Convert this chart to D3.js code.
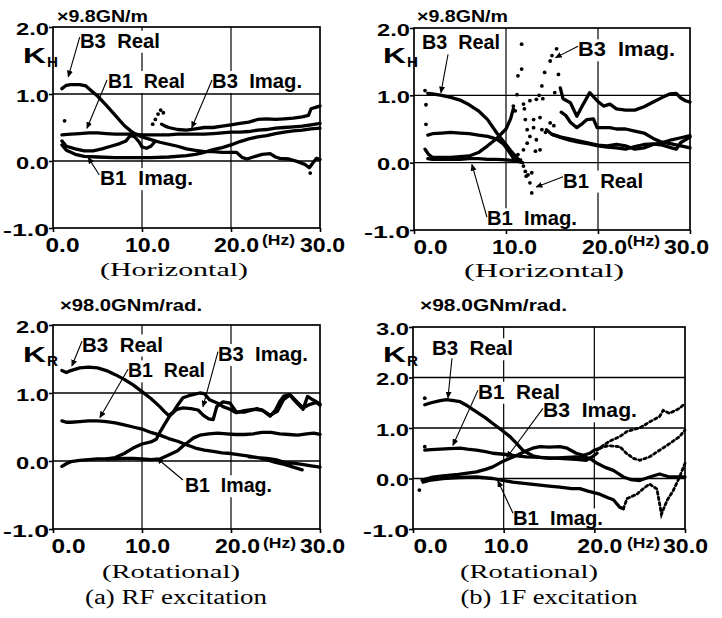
<!DOCTYPE html>
<html>
<head>
<meta charset="utf-8">
<script src="https://cdn.jsdelivr.net/npm/d3@7"></script>
<style>
  body { margin: 0; background: #fff; }
  svg { display: block; }
</style>
</head>
<body>
<div id="app"></div>
<script>
// ---- data: [frequency Hz, stiffness], null = break in the trace ----
const xTicks = [0, 10, 20, 30];
const yTicksH = [-1, 0, 1, 2];
const yTicksR = [-1, 0, 1, 2, 3];

// (a) RF excitation, horizontal
const rfH_B3Real = [[1,1.08],[1.5,1.13],[2,1.14],[3,1.14],[3.7,1.12],[4.3,1.05],[5,0.97],[6,0.83],[7,0.68],[8,0.53],[9,0.42],[10,0.36],[11,0.32],[12,0.28],[13,0.25],[14,0.22],[15,0.18],[16,0.16],[17,0.14],[18,0.14],[19,0.13],[20,0.13],[20.6,0.13],[21.3,0.05],[21.8,0.03],[22.5,0.06],[23.5,0.1],[24.4,0.11],[25,0.06],[25.5,0.04],[26.5,0.03],[27.5,-0.01],[28.3,-0.05],[28.8,-0.1],[29.6,0.04],[30,0.02]];
const rfH_B1Real = [[1,0.39],[2,0.4],[3,0.41],[4,0.42],[5,0.42],[6,0.41],[7,0.4],[8,0.4],[9,0.4],[10,0.39],[11,0.39],[12,0.39],[13,0.39],[14,0.4],[15,0.4],[16,0.4],[17,0.4],[18,0.41],[19,0.42],[20,0.43],[21,0.43],[22,0.44],[23,0.46],[24,0.47],[25,0.49],[26,0.5],[27,0.51],[28,0.52],[29,0.54],[30,0.56]];
const rfH_B3Imag = [[1,0.3],[1.5,0.22],[2.5,0.18],[3.5,0.15],[4.5,0.15],[5.5,0.18],[6.5,0.22],[7.5,0.26],[8.2,0.3],[8.7,0.38],[9.2,0.36],[9.7,0.28],[10,0.21],[10.5,0.19],[11,0.22],[11.4,0.28],null,[12.2,0.55],[12.6,0.52],[13,0.5],[14,0.47],[15,0.46],[16,0.48],[17,0.5],[18,0.5],[19,0.52],[20,0.54],[21,0.56],[22,0.58],[23,0.62],[24,0.63],[25,0.62],[26,0.63],[27,0.64],[28,0.66],[28.7,0.68],[29,0.78],[29.5,0.8],[30,0.82]];
const rfH_B1Imag = [[1,0.24],[1.5,0.16],[2.5,0.1],[3.5,0.07],[5,0.06],[7,0.05],[9,0.05],[11,0.05],[13,0.06],[15,0.08],[16,0.1],[17,0.13],[18,0.17],[19,0.2],[20,0.24],[21,0.29],[22,0.33],[23,0.36],[24,0.38],[25,0.41],[26,0.43],[27,0.45],[28,0.46],[29,0.48],[30,0.49]];
const rfH_points = [[11.2,0.55],[11.5,0.62],[11.8,0.7],[12.1,0.76],[12.4,0.72],[1.3,0.6],[28.9,-0.18]];

// (b) 1F excitation, horizontal
const ifH_B3Real = [[1.5,1.03],[2,1.02],[3,1.0],[4,0.97],[5,0.93],[6,0.86],[7,0.77],[8,0.64],[9,0.44],[10,0.27],[10.5,0.18],[11,0.1],[11.5,0.03],null,[14.4,0.49],[15,0.42],[16,0.37],[17,0.33],[18,0.3],[19,0.28],[20,0.25],[21,0.23],[22,0.22],[23,0.2],[24,0.24],[25,0.27],[26,0.28],[27,0.26],[28,0.22],[28.5,0.2],[29,0.3],[30,0.38]];
const ifH_B1Real = [[1.5,0.41],[2,0.43],[3,0.44],[4,0.45],[5,0.44],[6,0.43],[7,0.41],[8,0.39],[9,0.35],[9.7,0.28],[10.3,0.17],[10.8,0.07],[11.3,0.02],[11.8,0.0],null,[15,0.42],[16,0.38],[17,0.35],[18,0.32],[19,0.29],[20,0.26],[21,0.25],[22,0.27],[23,0.25],[24,0.2],[25,0.22],[26,0.27],[27,0.3],[28,0.28],[29,0.25],[30,0.22]];
const ifH_B3Imag = [[1.2,0.2],[1.6,0.12],[2,0.08],[3,0.08],[4,0.08],[5,0.09],[6,0.1],[7,0.15],[8,0.25],[9,0.36],[10,0.5],[10.5,0.65],[10.8,0.8],null,[15.9,1.11],[16.2,0.95],[17,0.89],[17.7,0.69],[18.4,0.87],[19.1,1.04],[19.9,0.92],[20.6,0.84],[21.3,0.87],[22,0.8],[23,0.78],[24,0.78],[25,0.83],[26,0.9],[27,0.97],[27.8,1.02],[28.5,1.03],[29,0.96],[29.5,0.92],[30,0.9]];
const ifH_B1Imag = [[1.5,0.06],[2,0.05],[3,0.05],[4,0.05],[5,0.05],[6,0.06],[7,0.06],[8,0.05],[9,0.05],[10,0.04],[11,0.03],[11.6,0.04],null,[16,0.75],[16.5,0.7],[17,0.6],[17.7,0.52],[18.3,0.58],[18.8,0.64],[19.5,0.65],[19.9,0.52],[20.5,0.52],[21.3,0.52],[22,0.5],[23,0.5],[24,0.47],[25,0.44],[26,0.36],[27,0.3],[28,0.34],[29,0.37],[30,0.4]];
const ifH_points = [[11.7,1.76],[15.5,1.69],[15.0,1.59],[14.8,1.51],[14.2,1.34],[15.7,1.31],[11.7,1.39],[11.3,1.29],[13.9,1.14],[15.3,1.04],[11.2,1.01],[10.8,0.84],[11,0.77],[11.9,0.87],[12,0.8],[12.6,0.92],[13.3,0.94],[13.6,1.0],[14,0.95],
  [12.1,0.64],[13,0.64],[13.7,0.67],[12.3,0.49],[13,0.52],[12.6,0.39],[13.3,0.34],[13.9,0.49],[14.8,0.59],[13.7,0.19],[13.2,0.17],[11.9,0.19],[12.3,0.29],[11.3,0.12],[14.3,0.45],[15.2,0.55],
  [12.1,-0.13],[12.4,-0.18],[12.8,-0.15],[12.6,-0.3],[12.8,-0.45],[12.2,-0.2],[11.9,-0.05],[1.3,0.86],[1.3,0.57],[1.2,1.07]];

// (a) RF excitation, rotational
const rfR_B3Real = [[1,1.33],[1.5,1.3],[2,1.33],[3,1.37],[4,1.38],[5,1.37],[6,1.33],[7,1.27],[8,1.2],[9,1.12],[10,1.02],[11,0.92],[12,0.8],[12.5,0.73],[13,0.67],[13.5,0.72],[14,0.82],[14.6,0.93],[15.5,0.97],[16.5,1.0],[17,0.99],[17.6,0.9],[18.5,0.85],[19.1,0.8],[19.9,0.76],[20.6,0.71],[21.5,0.74],[22.5,0.76],[23.5,0.75],[24.4,0.66],[25,0.75],[25.5,0.88],[25.9,0.95],[26.6,0.98],[27.2,0.9],[28.1,0.78],[28.8,0.83],[29.6,0.86],[30,0.82]];
const rfR_B1Real = [[1,0.59],[1.5,0.57],[2,0.57],[3,0.58],[4,0.59],[5,0.59],[6,0.58],[7,0.56],[8,0.53],[9,0.5],[10,0.47],[11,0.42],[12,0.38],[13,0.33],[14,0.29],[15,0.24],[16,0.19],[17,0.16],[18,0.14],[19,0.12],[20,0.11],[21,0.09],[22,0.07],[23,0.05],[24,0.02],[25,-0.02],[26,-0.05],[27,-0.09],[28,-0.13],null,[22,0.06],[24,0.04],[25,0.02],[26,-0.02],[27,-0.03],[28,-0.05],[29,-0.07],[30,-0.09]];
const rfR_B3Imag = [[6,0.03],[7,0.05],[8,0.11],[9,0.19],[10,0.25],[11,0.28],[11.6,0.32],[12,0.42],[12.5,0.53],[13.1,0.66],[13.9,0.76],[14.6,0.78],[15.5,0.77],[16.3,0.75],[16.9,0.67],[17.5,0.62],[18,0.61],[18.4,0.8],[19.1,0.87],[19.9,0.85],[20.6,0.72],[21.5,0.72],[22.9,0.77],[23.6,0.74],[24.4,0.67],[25.2,0.73],[25.9,0.9],[26.6,0.97],[27.2,0.88],[28.1,0.76],[28.6,0.95],[29.2,0.9],[30,0.84]];
const rfR_B1Imag = [[1,-0.08],[1.5,-0.04],[2,-0.01],[3,0.01],[4,0.02],[5,0.03],[6,0.03],[7,0.03],[8,0.04],[9,0.04],[10,0.03],[11,0.02],[12,0.03],[12.5,0.06],[13,0.09],[14,0.15],[14.6,0.22],[15.2,0.28],[15.8,0.34],[16.5,0.38],[17.5,0.4],[18.5,0.41],[19.5,0.4],[20.5,0.39],[21.5,0.39],[22.5,0.4],[23.5,0.42],[24.5,0.42],[25.5,0.4],[26.5,0.39],[27.5,0.38],[28.5,0.4],[29.3,0.41],[30,0.39]];

// (b) 1F excitation, rotational (solid part, then scattered part)
const ifR_B3Real = [[1.3,1.46],[2,1.5],[3,1.54],[3.7,1.56],[4.5,1.54],[5.2,1.52],[6,1.44],[7,1.32],[8,1.2],[8.8,1.09],[9.7,0.97],[10.7,0.83],[11.5,0.68],[12.1,0.56],[13.2,0.45],[14,0.42],[15,0.4],[16,0.41],[17,0.42],[18,0.43],[19,0.42],[19.5,0.4],[20.3,0.3],[21.2,0.22],[22.1,0.16],[23.2,0.03],[24,-0.02],[25,-0.04],[26.1,0.03],[27.2,0.09],[28.3,0.03],[29.4,0.03],[30,0.03]];
const ifR_B1Real = [[1.3,0.56],[2,0.57],[3,0.58],[4,0.59],[5.2,0.6],[6,0.58],[7,0.56],[8,0.53],[8.8,0.5],[10,0.48],[11,0.46],[12.5,0.43],[14,0.42],[15,0.41],[16.2,0.4],[17,0.39],[18,0.38],[19.1,0.36],[19.7,0.42],[20.3,0.5]];
const ifR_B1Real_sc = [[20.3,0.56],[21,0.66],[21.7,0.74],[22.8,0.83],[23.6,0.93],[24.3,0.97],[25,1.0],[26.1,1.12],[27.2,1.23],[27.6,1.35],[28.3,1.29],[29.4,1.39],[30,1.49]];
const ifR_B3Imag = [[1,-0.03],[2,0.02],[3.3,0.05],[5,0.08],[7,0.13],[8,0.18],[8.8,0.23],[9.7,0.32],[10.7,0.4],[11.6,0.47],[12.5,0.55],[13.2,0.6],[14,0.63],[15,0.62],[16.2,0.63],[17,0.6],[18,0.5],[18.8,0.46],[19.5,0.5],[20,0.56],[20.6,0.6]];
const ifR_B3Imag_sc = [[20.6,0.6],[21.5,0.65],[22.8,0.63],[23.6,0.49],[24.3,0.4],[25,0.36],[26.1,0.43],[27.2,0.56],[28.3,0.69],[29.4,0.83],[30,0.96]];
const ifR_B1Imag = [[1.1,-0.07],[2,-0.03],[3.3,0.0],[5,0.02],[7,0.03],[8.8,0.0],[10,-0.04],[11,-0.07],[12.5,-0.1],[14,-0.13],[15,-0.15],[16.2,-0.17],[17.5,-0.2],[18.4,-0.2],[19.3,-0.25],[20.6,-0.31],[21.5,-0.38],[22.1,-0.42],[22.8,-0.57],[23.2,-0.6]];
const ifR_B1Imag_sc = [[23.2,-0.6],[23.6,-0.4],[24.7,-0.31],[25.4,-0.2],[26.1,-0.11],[26.9,-0.21],[27.2,-0.5],[27.4,-0.71],[28,-0.44],[28.7,-0.24],[29.4,0.03],[30,0.3]];
const ifR_points = [[0.7,-0.23],[1.3,1.59],[1.3,0.63]];

// ---- drawing ----
const width = 722, height = 618;
const sans = "'Liberation Sans', Arial, Helvetica, sans-serif";
const serif = "'Liberation Serif', 'Times New Roman', serif";
const fmt = d3.formatLocale({ decimal: ".", thousands: ",", grouping: [3], currency: ["", ""], minus: "-" }).format(".1f");

const svg = d3.select("#app").append("svg")
  .attr("width", width).attr("height", height)
  .style("background", "#fff");

svg.append("defs").append("marker")
  .attr("id", "tip")
  .attr("markerUnits", "userSpaceOnUse")
  .attr("markerWidth", 7).attr("markerHeight", 6)
  .attr("refX", 6).attr("refY", 3)
  .attr("orient", "auto")
  .append("path").attr("d", "M0,0L7,3L0,6Z").attr("fill", "#000");

const panels = [
  {
    xr: [53, 320], yr: [228, 27], dom: [-1, 2], yTicks: yTicksH,
    title: "×9.8GN/m", titlePos: [57, 22, 91], k: [23, 63], sub: "H",
    xOff: [9, 5, 5, 2], hz: [262, 245],
    caption: ["(Horizontal)", 174, 276, 148],
    solid: [rfH_B3Real, rfH_B1Real, rfH_B3Imag, rfH_B1Imag], dashed: [], points: rfH_points,
    labels: [
      { t: "B3  Real", at: [3.03, 1.69], len: 80, from: [3.0, 1.85], to: [1.72, 1.26] },
      { t: "B1  Real", at: [6.18, 1.09], len: 77, from: [6.07, 1.21], to: [3.82, 0.49] },
      { t: "B3  Imag.", at: [17.87, 1.09], len: 90, from: [17.87, 1.21], to: [15.6, 0.5] },
      { t: "B1  Imag.", at: [5.28, -0.36], len: 93, from: [5.2, -0.21], to: [3.97, 0.05] }
    ]
  },
  {
    xr: [414, 690], yr: [230, 28], dom: [-1, 2], yTicks: yTicksH,
    title: "×9.8GN/m", titlePos: [417, 22, 91], k: [383, 63], sub: "H",
    xOff: [16, 8, 6, -4], hz: [627, 246],
    caption: ["(Horizontal)", 544, 277, 160],
    solid: [ifH_B3Real, ifH_B1Real, ifH_B3Imag, ifH_B1Imag], dashed: [], points: ifH_points,
    labels: [
      { t: "B3  Real", at: [0.87, 1.69], len: 78, from: [3.7, 1.61], to: [2.93, 1.04] },
      { t: "B3  Imag.", at: [17.83, 1.58], len: 97, from: [17.83, 1.73], to: [15.4, 1.56] },
      { t: "B1  Real", at: [16.2, -0.37], len: 80, from: [16.2, -0.21], to: [13.3, -0.36] },
      { t: "B1  Imag.", at: [7.93, -0.93], len: 90, from: [7.93, -0.81], to: [6.3, -0.03] }
    ]
  },
  {
    xr: [53, 320], yr: [529, 325], dom: [-1, 2], yTicks: yTicksH,
    title: "×98.0GNm/rad.", titlePos: [60, 311, 142], k: [23, 362], sub: "R",
    xOff: [15, 5, 6, 2], hz: [263, 548],
    caption: ["(Rotational)", 171, 578, 138],
    footer: ["(a) RF excitation", 176, 604, 182],
    solid: [rfR_B3Real, rfR_B1Real, rfR_B3Imag, rfR_B1Imag], dashed: [], points: [],
    labels: [
      { t: "B3  Real", at: [3.26, 1.61], len: 81, from: [3.26, 1.76], to: [2.13, 1.4] },
      { t: "B1  Real", at: [8.43, 1.23], len: 77, from: [8.43, 1.35], to: [5.28, 0.64] },
      { t: "B3  Imag.", at: [18.54, 1.47], len: 90, from: [18.54, 1.61], to: [16.85, 0.8] },
      { t: "B1  Imag.", at: [14.83, -0.46], len: 87, from: [14.6, -0.28], to: [11.69, 0.04] }
    ]
  },
  {
    xr: [413, 685], yr: [529, 327], dom: [-1, 3], yTicks: yTicksR,
    title: "×98.0GNm/rad.", titlePos: [420, 311, 147], k: [383, 362], sub: "R",
    xOff: [17, 2, 5, 0], hz: [627, 548],
    caption: ["(Rotational)", 529, 578, 138],
    footer: ["(b) 1F excitation", 549, 604, 177],
    solid: [ifR_B3Real, ifR_B1Real, ifR_B3Imag, ifR_B1Imag],
    dashed: [ifR_B1Real_sc, ifR_B3Imag_sc, ifR_B1Imag_sc], points: ifR_points,
    labels: [
      { t: "B3  Real", at: [2.09, 2.44], len: 81, from: [4.3, 2.38], to: [3.86, 1.6] },
      { t: "B1  Real", at: [7.17, 1.58], len: 82, from: [7.17, 1.75], to: [4.41, 0.66] },
      { t: "B3  Imag.", at: [14.33, 1.21], len: 94, from: [14.33, 1.39], to: [10.36, 0.42] },
      { t: "B1  Imag.", at: [11.03, -0.93], len: 90, from: [11.03, -0.69], to: [9.37, -0.05] }
    ]
  }
];

function drawPanel(p) {
  const x = d3.scaleLinear().domain([0, 30]).range(p.xr);
  const y = d3.scaleLinear().domain(p.dom).range(p.yr);
  const g = svg.append("g");

  // grid
  const gridY = p.yTicks.filter(d => d > p.dom[0] && d < p.dom[1]);
  g.append("g").selectAll("line").data(gridY).join("line")
    .attr("x1", x(0)).attr("x2", x(30))
    .attr("y1", d => y(d)).attr("y2", d => y(d))
    .attr("stroke", "#000").attr("stroke-width", 1.4);
  g.append("g").selectAll("line").data([10, 20]).join("line")
    .attr("x1", d => x(d)).attr("x2", d => x(d))
    .attr("y1", y(p.dom[0])).attr("y2", y(p.dom[1]))
    .attr("stroke", "#000").attr("stroke-width", 1.2);

  const masks = g.append("g");

  // traces
  const line = d3.line().defined(d => d !== null).x(d => x(d[0])).y(d => y(d[1]));
  g.append("g").selectAll("path").data(p.solid).join("path")
    .attr("d", line)
    .attr("fill", "none").attr("stroke", "#000")
    .attr("stroke-width", 3.3).attr("stroke-linejoin", "round").attr("stroke-linecap", "round");
  g.append("g").selectAll("path").data(p.dashed).join("path")
    .attr("d", line)
    .attr("fill", "none").attr("stroke", "#000")
    .attr("stroke-width", 2.8).attr("stroke-dasharray", "2.5,3").attr("stroke-linecap", "round");
  g.append("g").selectAll("circle").data(p.points).join("circle")
    .attr("cx", d => x(d[0])).attr("cy", d => y(d[1])).attr("r", 1.9).attr("fill", "#000");

  // frame
  g.append("rect")
    .attr("x", x(0)).attr("y", y(p.dom[1]))
    .attr("width", x(30) - x(0)).attr("height", y(p.dom[0]) - y(p.dom[1]))
    .attr("fill", "none").attr("stroke", "#000").attr("stroke-width", 1.7);

  // axes
  const ay = g.append("g").attr("transform", `translate(${x(0)},0)`)
    .call(d3.axisLeft(y).tickValues(p.yTicks).tickFormat(fmt).tickSize(4).tickPadding(0));
  ay.select(".domain").remove();
  ay.selectAll("line").attr("stroke-width", 1.6);
  ay.selectAll("text")
    .attr("x", -4).attr("dy", null).attr("y", 7)
    .attr("font-family", sans).attr("font-weight", "bold").attr("font-size", 17)
    .attr("textLength", d => d < 0 ? 46 : 33).attr("lengthAdjust", "spacingAndGlyphs");

  const ax = g.append("g").attr("transform", `translate(0,${y(p.dom[0])})`)
    .call(d3.axisBottom(x).tickValues(xTicks).tickFormat(fmt).tickSize(4));
  ax.select(".domain").remove();
  ax.selectAll("line").attr("stroke-width", 1.6);
  ax.selectAll("text")
    .attr("dy", null).attr("y", 24)
    .attr("x", (d, i) => p.xOff[i])
    .attr("font-family", sans).attr("font-weight", "bold").attr("font-size", 20)
    .attr("textLength", d => d === 0 ? 34 : 45).attr("lengthAdjust", "spacingAndGlyphs");

  // unit, symbol, Hz
  const bold = (sel) => sel.attr("font-family", sans).attr("font-weight", "bold").attr("fill", "#000");
  g.append("text").text(p.title).call(bold)
    .attr("x", p.titlePos[0]).attr("y", p.titlePos[1]).attr("font-size", 16)
    .attr("textLength", p.titlePos[2]).attr("lengthAdjust", "spacingAndGlyphs");
  g.append("text").text("K").call(bold)
    .attr("x", p.k[0]).attr("y", p.k[1]).attr("font-size", 22)
    .attr("textLength", 23).attr("lengthAdjust", "spacingAndGlyphs");
  g.append("text").text(p.sub).call(bold)
    .attr("x", p.k[0] + 24).attr("y", p.k[1] + 4).attr("font-size", 14)
    .attr("textLength", 11).attr("lengthAdjust", "spacingAndGlyphs");
  g.append("text").text("(Hz)").call(bold)
    .attr("x", p.hz[0]).attr("y", p.hz[1]).attr("font-size", 15)
    .attr("textLength", 33).attr("lengthAdjust", "spacingAndGlyphs");

  // captions
  const serifText = (c, size) => g.append("text").text(c[0])
    .attr("x", c[1]).attr("y", c[2]).attr("text-anchor", "middle")
    .attr("font-family", serif).attr("font-size", size).attr("fill", "#000")
    .attr("textLength", c[3]).attr("lengthAdjust", "spacingAndGlyphs");
  serifText(p.caption, 19);
  if (p.footer) serifText(p.footer, 20);

  // series labels with leader lines
  const lab = g.append("g").selectAll("text").data(p.labels).join("text")
    .text(d => d.t)
    .style("white-space", "pre")
    .attr("x", d => x(d.at[0])).attr("y", d => y(d.at[1]))
    .attr("font-family", sans).attr("font-weight", "bold").attr("font-size", 20)
    .attr("textLength", d => d.len).attr("lengthAdjust", "spacingAndGlyphs");
  lab.each(function () {
    const b = this.getBBox();
    masks.append("rect")
      .attr("x", b.x - 2).attr("y", b.y + 1)
      .attr("width", b.width + 4).attr("height", b.height)
      .attr("fill", "#fff");
  });
  g.append("g").selectAll("line").data(p.labels).join("line")
    .attr("x1", d => x(d.from[0])).attr("y1", d => y(d.from[1]))
    .attr("x2", d => x(d.to[0])).attr("y2", d => y(d.to[1]))
    .attr("stroke", "#000").attr("stroke-width", 1.1)
    .attr("marker-end", "url(#tip)");
}

panels.forEach(drawPanel);
</script>
</body>
</html>
